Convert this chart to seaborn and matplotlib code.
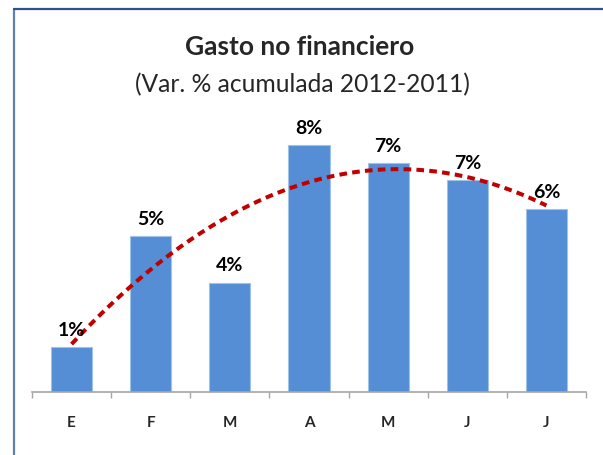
import numpy as np
import pandas as pd
import matplotlib
matplotlib.use("Agg")
import matplotlib.pyplot as plt
from matplotlib.lines import Line2D
import seaborn as sns

# ---- data ----
months = ["E", "F", "M", "A", "M", "J", "J"]
values = [1.45, 5.06, 3.55, 8.02, 7.44, 6.88, 5.94]
title = "Gasto no financiero"
subtitle = "(Var. % acumulada 2012-2011)"

sns.set_theme(style="white")
plt.rcParams["font.family"] = ["Lato", "DejaVu Sans"]

fig = plt.figure(figsize=(6.03, 4.55), dpi=100)
fig.patch.set_facecolor("white")
ax = fig.add_axes([32 / 603, 1 - 392 / 455, 554 / 603, (392 - 84) / 455])

df = pd.DataFrame({"pos": [f"{i}" for i in range(len(months))], "val": values})
sns.barplot(data=df, x="pos", y="val", color="#558ED5", saturation=1,
            width=0.52, edgecolor="#9DC3E6", linewidth=0.8, ax=ax)

xnum = np.arange(len(months))
sns.regplot(x=xnum, y=np.array(values), order=2, ci=None, scatter=False,
            truncate=True, ax=ax,
            line_kws=dict(color="#C00000", lw=2.9, linestyle=(0, (1.9, 1.3)),
                          dash_capstyle="butt"))

for i, v in enumerate(values):
    ax.annotate(f"{v:.0f}%", (i, v), xytext=(0, 6), textcoords="offset points",
                ha="center", va="bottom", fontsize=14, fontweight="bold",
                color="black")

ax.set_xlim(-0.5, len(months) - 0.5)
ax.set_ylim(0, 10)
ax.set_xticks(xnum)
ax.set_xticklabels(months, fontsize=11, fontweight="bold")
ax.set_xticks(np.arange(len(months) + 1) - 0.5, minor=True)
ax.tick_params(axis="x", which="major", length=0, pad=17)
ax.tick_params(axis="x", which="minor", length=4, width=1, color="#A6A6A6",
               direction="out", bottom=True)
ax.set_yticks([])
ax.set_xlabel("")
ax.set_ylabel("")
for s in ["top", "right", "left"]:
    ax.spines[s].set_visible(False)
ax.spines["bottom"].set_color("#A6A6A6")
ax.spines["bottom"].set_linewidth(1.2)
ax.patch.set_alpha(0)

fig.text(0.497, 1 - 47 / 455, title, ha="center", va="center",
         fontsize=19, fontweight="bold")
fig.text(0.502, 1 - 85 / 455, subtitle, ha="center", va="center",
         fontsize=17.7)

# chart frame (extends past the right and bottom edges)
fig.add_artist(Line2D([14 / 603, 14 / 603], [0, 1 - 9 / 455],
                      transform=fig.transFigure, color="#5F80AD", lw=1.6))
fig.add_artist(Line2D([14 / 603, 1], [1 - 9 / 455, 1 - 9 / 455],
                      transform=fig.transFigure, color="#2F528F", lw=1.6))

fig.savefig("out.png", dpi=100)
